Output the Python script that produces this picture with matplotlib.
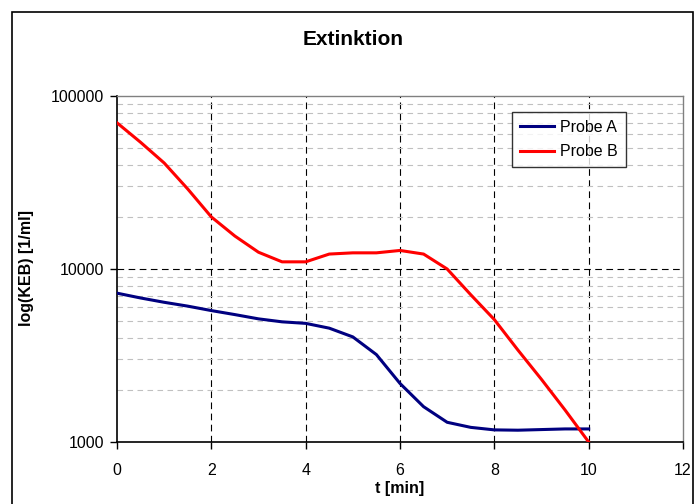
import matplotlib.pyplot as plt
from matplotlib.patches import Rectangle
from matplotlib.ticker import FixedLocator, FixedFormatter, LogLocator, NullFormatter

plt.rcParams['font.family'] = ['Liberation Sans', 'DejaVu Sans']

# --- Daten ---
t_min = [0, 0.5, 1, 1.5, 2, 2.5, 3, 3.5, 4, 4.5, 5,
         5.5, 6, 6.5, 7, 7.5, 8, 8.5, 9, 9.5, 10]
probe_a = [7250, 6800, 6420, 6100, 5750, 5450, 5150, 4950, 4850, 4550, 4050,
           3200, 2180, 1600, 1300, 1215, 1175, 1170, 1180, 1190, 1190]
probe_b = [70000, 54000, 41000, 29000, 20000, 15500, 12500, 11000, 11000, 12200, 12400,
           12400, 12800, 12200, 10000, 7100, 5100, 3400, 2300, 1530, 1000]
x_ticks = [0, 2, 4, 6, 8, 10, 12]
x_grid = [2, 4, 6, 8, 10]
y_ticks = [1000, 10000, 100000]
y_labels = ['1000', '10000', '100000']

fig = plt.figure(figsize=(6.96, 5.04), dpi=100)
ax = fig.add_axes([117/696, 1 - 442/504, (683 - 117)/696, (442 - 96)/504])

# Rahmen um das Diagramm
fig.patches.append(Rectangle((12/696, -0.05), (693 - 12)/696, 1.05 - 12/504,
                             transform=fig.transFigure, fill=False,
                             edgecolor='black', linewidth=1.2))

ax.plot(t_min, probe_a, color='#000080', linewidth=2.2, label='Probe A', zorder=3)
ax.plot(t_min, probe_b, color='#ff0000', linewidth=2.2, label='Probe B', zorder=3)

ax.set_yscale('log')
ax.set_xlim(0, 12)
ax.set_ylim(1000, 100000)
ax.xaxis.set_major_locator(FixedLocator(x_ticks))
ax.yaxis.set_major_locator(FixedLocator(y_ticks))
ax.yaxis.set_major_formatter(FixedFormatter(y_labels))
ax.yaxis.set_minor_locator(LogLocator(base=10, subs=range(2, 10)))
ax.yaxis.set_minor_formatter(NullFormatter())

# Gitternetz (nur innen)
for xv in x_grid:
    ax.axvline(xv, color='black', linestyle=(0, (6, 4)), linewidth=0.8, zorder=1)
ax.axhline(10000, color='black', linestyle=(0, (6, 4)), linewidth=0.8, zorder=1)
ax.grid(True, which='minor', axis='y', color='#c0c0c0', linestyle=(0, (5, 4)), linewidth=0.8)
ax.tick_params(which='major', direction='out', length=5, width=1, labelsize=11.5, pad=10)
ax.tick_params(axis='y', which='major', pad=4)
ax.tick_params(which='minor', length=0)

for s in ['left', 'bottom']:
    ax.spines[s].set_color('black')
    ax.spines[s].set_linewidth(1.2)
for s in ['top', 'right']:
    ax.spines[s].set_color('#808080')
    ax.spines[s].set_linewidth(1.0)

fig.text(353/696, 1 - 40/504, 'Extinktion', fontsize=15, fontweight='bold',
         ha='center', va='center')
ax.set_xlabel('t [min]', fontsize=11.5, fontweight='bold', labelpad=2)
fig.text(26/696, 1 - 268/504, 'log(KEB) [1/ml]', fontsize=11.5, fontweight='bold',
         rotation=90, ha='center', va='center')

leg = ax.legend(loc='upper left', bbox_to_anchor=(0.698, 0.954), borderaxespad=0,
                fontsize=11.5, frameon=True, fancybox=False, handlelength=2.1,
                handletextpad=0.4, labelspacing=0.6, borderpad=0.5)
leg.get_frame().set_edgecolor('black')
leg.get_frame().set_linewidth(1.0)

plt.savefig('out.png', dpi=100)
